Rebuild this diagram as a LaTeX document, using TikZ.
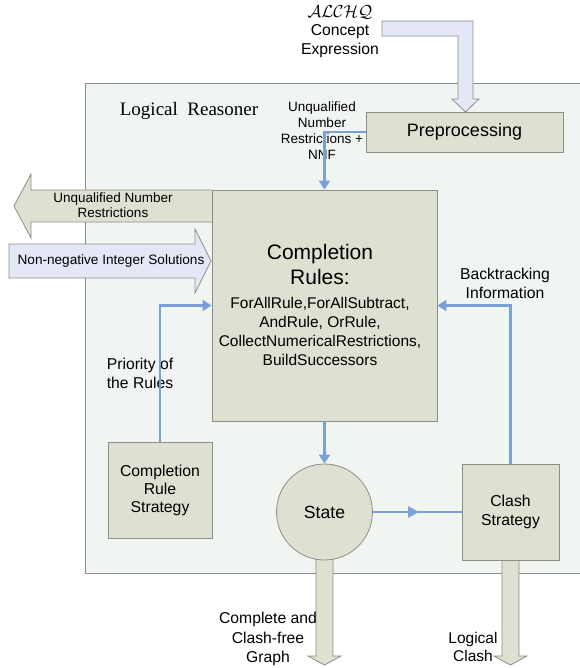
\documentclass[tikz,border=0pt]{standalone}
\usepackage{fontspec}
\setmainfont{Liberation Sans}
\newfontfamily\titlefont{Liberation Serif}
\usetikzlibrary{arrows.meta,decorations.markings}
\definecolor{boxfill}{RGB}{222,224,209}
\definecolor{panelfill}{RGB}{241,245,241}
\definecolor{edgegray}{RGB}{140,142,136}
\definecolor{inputfill}{RGB}{228,232,246}
\definecolor{flowblue}{RGB}{122,160,214}
\begin{document}
\begin{tikzpicture}[x=1pt,y=-1pt,
  box/.style={draw=edgegray, fill=boxfill, line width=0.8pt, inner sep=0pt, align=center},
  flow/.style={draw=flowblue, line width=2.2pt, -{Triangle[length=9pt,width=11pt]}},
  bigarrow/.style={draw=edgegray, line width=0.8pt},
  lbl/.style={align=center, font=\fontsize{15.7}{19}\selectfont},
  small/.style={align=center, font=\fontsize{13.5}{16}\selectfont}]
\useasboundingbox (0,0) rectangle (579,668);

\node (reasoner) [draw=edgegray, fill=panelfill, line width=0.8pt, minimum width=520pt, minimum height=490pt, anchor=north west, inner sep=0pt] at (85,83) {};
\node (title) [font=\titlefont\fontsize{19}{22}\selectfont] at (189,111) {Logical\ \ Reasoner};

\draw[bigarrow, fill=inputfill] (382,21)--(473,21)--(473,99)--(479,99)--(465.5,112)--(452,99)--(458,99)--(458,36)--(382,36)--cycle;
\draw[bigarrow, fill=boxfill] (212,190)--(31,190)--(31,174)--(14,206)--(31,238)--(31,222)--(212,222);
\draw[bigarrow, fill=inputfill] (9,244)--(195,244)--(195,229)--(211,261)--(195,293)--(195,278)--(9,278)--cycle;
\draw[bigarrow, fill=boxfill] (316,550)--(316,656)--(308,656)--(324.5,665)--(341,656)--(333,656)--(333,550);
\draw[bigarrow, fill=boxfill] (502,555)--(502,656)--(494,656)--(510.5,665)--(527,656)--(519,656)--(519,555);

\node (pre) [box, minimum width=197pt, minimum height=40pt, font=\fontsize{18}{21}\selectfont] at (464.5,132) {Preprocessing};
\node (rules) [box, minimum width=225pt, minimum height=231pt] at (324.5,305.5) {};
\node (crs) [box, minimum width=104pt, minimum height=96pt, font=\fontsize{15.8}{18}\selectfont] at (160,490) {Completion\\Rule\\Strategy};
\node (state) [box, circle, minimum size=96pt, font=\fontsize{17.6}{20}\selectfont] at (324.5,512) {State};
\node (clash) [box, minimum width=97pt, minimum height=96pt, font=\fontsize{15.8}{19}\selectfont] at (510.5,512) {Clash\\Strategy};

\node (rulestitle) [align=center, font=\fontsize{21}{25}\selectfont] at (320,264) {Completion\\Rules:};
\node (rulelist) [align=center, font=\fontsize{15.5}{19}\selectfont] at (320,331) {ForAllRule,ForAllSubtract,\\AndRule, OrRule,\\CollectNumericalRestrictions,\\BuildSuccessors};

\node (dl) [font=\fontsize{17}{20}\selectfont] at (340,12) {$\mathcal{ALCHQ}$};
\node (concept) [lbl] at (340,41) {Concept\\Expression};
\node (unqnnf) [small] at (322,131) {Unqualified\\Number\\Restrictions +\\NNF};
\node (unqout) [small, font=\fontsize{13.5}{15}\selectfont] at (113,205.5) {Unqualified Number\\Restrictions};
\node (intsol) [small, font=\fontsize{13.6}{16}\selectfont] at (111,261) {Non-negative Integer Solutions};
\node (priority) [lbl] at (140,373) {Priority of\\the Rules};
\node (backtrack) [lbl] at (505,283) {Backtracking\\Information};
\node (graph) [lbl, font=\fontsize{15.7}{19.5}\selectfont] at (268,639) {Complete and\\Clash-free\\Graph};
\node (logclash) [lbl, font=\fontsize{15.5}{18}\selectfont] at (473,647) {Logical\\Clash};

\draw[flow] (pre.west) -| (rules.north);
\draw[flow] (crs.north) |- (rules.west);
\draw[flow] (clash.north) |- (rules.east);
\draw[flow] (rules.south) -- (state.north);
\draw[draw=flowblue, line width=2.2pt, decoration={markings, mark=at position 0.52 with {\arrow{Triangle[length=11pt,width=11pt]}}}, postaction={decorate}] (state.east) -- (clash.west);
\end{tikzpicture}
\end{document}
